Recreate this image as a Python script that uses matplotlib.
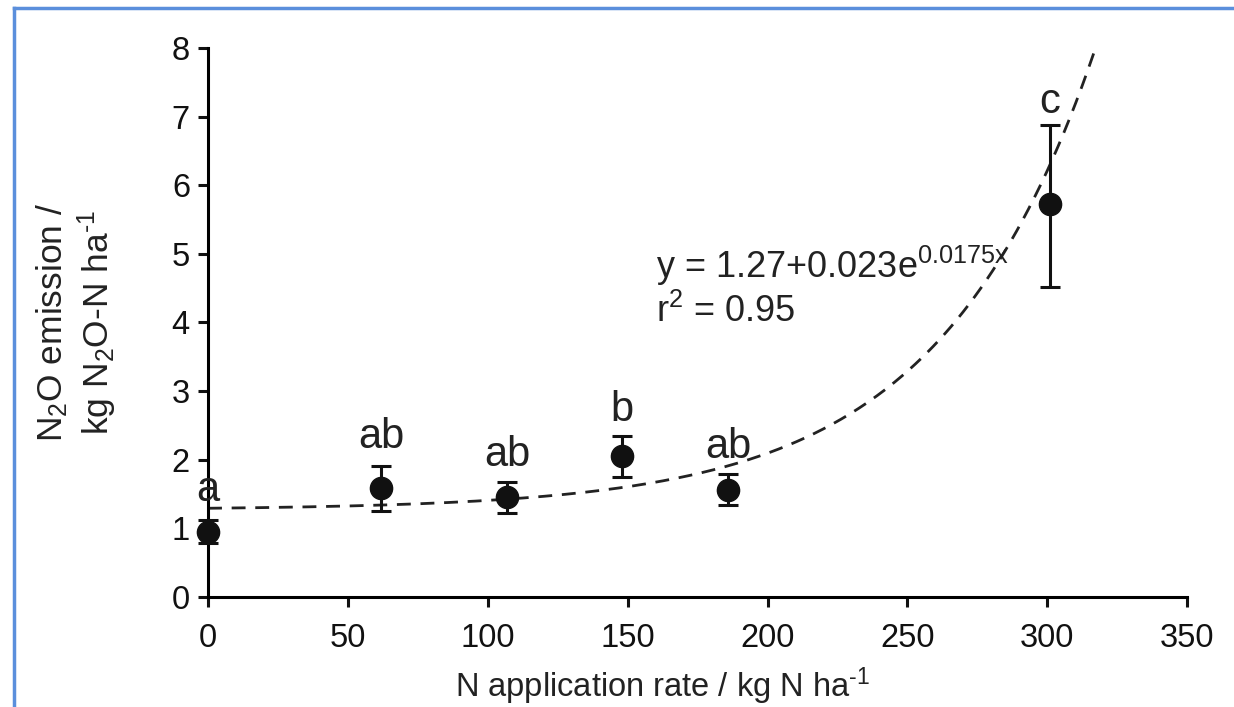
import numpy as np
import matplotlib
matplotlib.use("Agg")
import matplotlib.pyplot as plt
from matplotlib.lines import Line2D

plt.rcParams['font.family'] = ['Liberation Sans', 'DejaVu Sans']
plt.rcParams['mathtext.fontset'] = 'custom'
plt.rcParams['mathtext.rm'] = 'Liberation Sans'
plt.rcParams['mathtext.it'] = 'Liberation Sans'

# === data ===
n_rate = [0, 62, 107, 148, 186, 301]
n2o = [0.95, 1.59, 1.46, 2.05, 1.56, 5.73]
err_low = [0.17, 0.34, 0.24, 0.30, 0.22, 1.21]
err_high = [0.17, 0.32, 0.22, 0.30, 0.23, 1.15]
letters = ["a", "ab", "ab", "b", "ab", "c"]
letter_y = [1.56, 2.33, 2.07, 2.73, 2.19, 7.22]

# fitted curve y = a + b*exp(k*x), as drawn
fit_a, fit_b, fit_k = 1.27, 0.023, 0.0179
fit_xmax = np.log((8.05 - fit_a) / fit_b) / fit_k
fit_x = np.linspace(0, fit_xmax, 300)
fit_y = fit_a + fit_b * np.exp(fit_k * fit_x)

fig = plt.figure(figsize=(12.34, 7.07), dpi=100)
ax = fig.add_axes([0.1686, 0.1556, 0.7934, 0.7765])

ax.plot(fit_x, fit_y, color="#222222", lw=2, ls=(0, (5, 3.5)), zorder=2)
ax.errorbar(n_rate, n2o, yerr=[err_low, err_high], fmt="o", color="#111111",
            ms=16, elinewidth=2.2, capsize=7, capthick=2.2, zorder=3)
for x, y, t in zip(n_rate, letter_y, letters):
    ax.text(x, y, t, ha="center", va="center", fontsize=30, color="#222222")

ax.text(160, 4.65, r"y = 1.27+0.023e$^{0.0175x}$", fontsize=26, color="#222222")
ax.text(160, 4.0, r"r$^{2}$ = 0.95", fontsize=26, color="#222222")

ax.set_xlim(0, 350)
ax.set_ylim(0, 8)
ax.set_xticks(range(0, 351, 50))
ax.set_yticks(range(0, 9))
ax.spines["top"].set_visible(False)
ax.spines["right"].set_visible(False)
ax.spines["left"].set_linewidth(2.2)
ax.spines["bottom"].set_linewidth(2.2)
ax.tick_params(direction="out", length=7, width=2.2, labelsize=23.5,
               colors="#111111", pad=6)
ax.tick_params(axis="x", pad=12)
for child in ax.get_children():
    if hasattr(child, "set_clip_on"):
        child.set_clip_on(False)

ax.set_xlabel(r"N application rate / kg N ha$^{\text{-1}}$", fontsize=23.5,
              labelpad=8, color="#222222")
ax.xaxis.label.set_x(0.464)
ax.set_ylabel("N$_2$O emission /\nkg N$_2$O-N ha$^{\\text{-1}}$", fontsize=25.5,
              labelpad=38, color="#222222", linespacing=1.15)

# blue frame lines at top and left
fig.add_artist(Line2D([14 / 1234, 14 / 1234], [0, 1 - 8 / 707], color="#5b8fdc", lw=2.5))
fig.add_artist(Line2D([14 / 1234, 1], [1 - 8 / 707, 1 - 8 / 707], color="#5b8fdc", lw=2.5))

fig.savefig("out.png", dpi=100)
